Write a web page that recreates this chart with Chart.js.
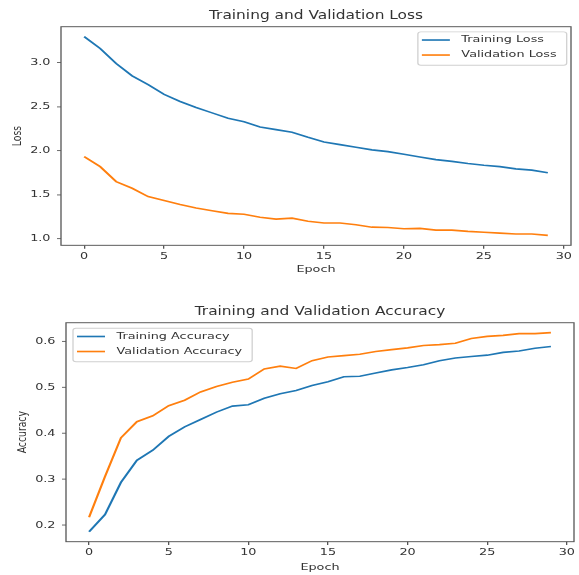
<!DOCTYPE html>
<html>
<head>
<meta charset="utf-8">
<script src="https://cdn.jsdelivr.net/npm/chart.js@4.4.1/dist/chart.umd.min.js"></script>
<style>
  html, body { margin: 0; padding: 0; background: #fff; overflow: hidden; }
  canvas { display: block; }
</style>
</head>
<body>
<!-- internal sizes are taller: the reference figure is squashed vertically -->
<canvas id="lossChart" width="579" height="392"></canvas>
<canvas id="accChart" width="579" height="385"></canvas>
<script>
// data
const epochs = [0, 1, 2, 3, 4, 5, 6, 7, 8, 9, 10, 11, 12, 13, 14, 15, 16, 17, 18, 19, 20, 21, 22, 23, 24, 25, 26, 27, 28, 29];
const trainLoss = [3.295, 3.16, 2.99, 2.85, 2.75, 2.64, 2.56, 2.49, 2.43, 2.37, 2.33, 2.27, 2.24, 2.21, 2.153, 2.10, 2.07, 2.04, 2.01, 1.99, 1.96, 1.93, 1.90, 1.88, 1.855, 1.835, 1.82, 1.795, 1.78, 1.75];
const valLoss = [1.934, 1.82, 1.65, 1.575, 1.48, 1.435, 1.39, 1.35, 1.32, 1.29, 1.28, 1.245, 1.225, 1.235, 1.20, 1.18, 1.18, 1.16, 1.133, 1.13, 1.115, 1.12, 1.10, 1.10, 1.085, 1.075, 1.065, 1.055, 1.055, 1.04];
const trainAcc = [0.1855, 0.223, 0.293, 0.341, 0.363, 0.393, 0.414, 0.430, 0.446, 0.459, 0.462, 0.476, 0.486, 0.493, 0.504, 0.512, 0.523, 0.524, 0.531, 0.538, 0.543, 0.549, 0.558, 0.564, 0.567, 0.570, 0.576, 0.579, 0.585, 0.589];
const valAcc = [0.217, 0.306, 0.390, 0.425, 0.438, 0.460, 0.472, 0.490, 0.502, 0.511, 0.518, 0.540, 0.546, 0.541, 0.558, 0.566, 0.569, 0.572, 0.578, 0.582, 0.586, 0.591, 0.593, 0.596, 0.6065, 0.611, 0.613, 0.617, 0.617, 0.619];

const xTicks = [0, 5, 10, 15, 20, 25, 30];
const lossTicks = [1.0, 1.5, 2.0, 2.5, 3.0];
const accTicks = [0.2, 0.3, 0.4, 0.5, 0.6];

const BLUE = '#1f77b4';
const ORANGE = '#ff7f0e';
const TEXT = '#333';
const FONT = "'DejaVu Sans', sans-serif";
const SQUASH = 0.74;

Chart.defaults.font.family = FONT;
Chart.defaults.color = TEXT;

// matplotlib style 5% margins
function padRange(arrs) {
  const all = [].concat(...arrs);
  const lo = Math.min(...all), hi = Math.max(...all);
  const m = (hi - lo) * 0.05;
  return [lo - m, hi + m];
}

// full box around the axes
const frame = {
  id: 'frame',
  afterDatasetsDraw(chart) {
    const { ctx, chartArea: a } = chart;
    ctx.save();
    ctx.strokeStyle = '#555';
    ctx.lineWidth = 1.3;
    ctx.strokeRect(a.left, a.top, a.right - a.left, a.bottom - a.top);
    ctx.restore();
  }
};

// title centred over the axes, like matplotlib
const axTitle = {
  id: 'axTitle',
  afterDraw(chart, args, opts) {
    const { ctx, chartArea: a } = chart;
    ctx.save();
    ctx.font = opts.size + 'px ' + FONT;
    ctx.fillStyle = TEXT;
    ctx.textAlign = 'center';
    ctx.textBaseline = 'middle';
    ctx.fillText(opts.text, (a.left + a.right) / 2, opts.y);
    ctx.restore();
  }
};

// legend box inside the axes
const boxLegend = {
  id: 'boxLegend',
  afterDraw(chart, args, opts) {
    const { ctx, chartArea: a } = chart;
    const sets = chart.data.datasets;
    ctx.save();
    ctx.font = opts.size + 'px ' + FONT;
    const textW = Math.max(...sets.map(d => ctx.measureText(d.label).width));
    const w = opts.padLeft + opts.handle + opts.gap + textW + opts.padRight;
    const h = opts.boxH;
    const left = opts.corner === 'right' ? a.right - opts.dx - w : a.left + opts.dx;
    const top = a.top + opts.dy;

    ctx.beginPath();
    ctx.roundRect(left, top, w, h, 3);
    ctx.fillStyle = 'rgba(255,255,255,0.85)';
    ctx.fill();
    ctx.strokeStyle = '#d0d0d0';
    ctx.lineWidth = 1.3;
    ctx.stroke();

    sets.forEach((d, i) => {
      const y = top + opts.firstRow + i * opts.rowGap;
      const x0 = left + opts.padLeft;
      ctx.beginPath();
      ctx.moveTo(x0, y);
      ctx.lineTo(x0 + opts.handle, y);
      ctx.strokeStyle = d.borderColor;
      ctx.lineWidth = 2.2;
      ctx.stroke();
      ctx.fillStyle = TEXT;
      ctx.textAlign = 'left';
      ctx.textBaseline = 'middle';
      ctx.fillText(d.label, x0 + opts.handle + opts.gap, y);
    });
    ctx.restore();
  }
};

function makeChart(id, cfg) {
  const canvas = document.getElementById(id);
  const fullH = canvas.height;
  const xr = padRange([epochs]);
  const yr = padRange(cfg.series.map(s => s.values));
  const chart = new Chart(canvas, {
    type: 'line',
    data: {
      datasets: cfg.series.map(s => ({
        label: s.label,
        data: epochs.map((e, i) => ({ x: e, y: s.values[i] })),
        borderColor: s.color,
        backgroundColor: s.color,
        borderWidth: 2.2,
        pointRadius: 0,
        tension: 0,
        fill: false
      }))
    },
    options: {
      responsive: false,
      devicePixelRatio: 1,
      animation: false,
      events: [],
      layout: { padding: { left: 0, right: cfg.padRight, top: cfg.padTop, bottom: 0 } },
      plugins: {
        legend: { display: false },
        tooltip: { enabled: false },
        axTitle: { text: cfg.title, size: 15.4, y: cfg.titleY },
        boxLegend: Object.assign({ size: 12.8, padLeft: 4, handle: 28, gap: 11.5, padRight: 10, boxH: 45, firstRow: 11, rowGap: 20.3 }, cfg.legend)
      },
      scales: {
        x: {
          type: 'linear',
          min: xr[0],
          max: xr[1],
          afterFit: s => { s.height = cfg.xAxisH; },
          afterBuildTicks: s => { s.ticks = xTicks.map(v => ({ value: v })); },
          grid: { drawOnChartArea: false, drawTicks: true, tickLength: 4.5, color: '#555', lineWidth: 1.3 },
          border: { display: false },
          ticks: { font: { size: 12.8 }, padding: 2.5, maxRotation: 0, callback: v => String(v) },
          title: { display: true, text: 'Epoch', font: { size: 12.8 }, padding: { top: 0, bottom: cfg.xTitlePad } }
        },
        y: {
          type: 'linear',
          min: yr[0],
          max: yr[1],
          afterFit: s => { s.width = cfg.yAxisW; },
          afterBuildTicks: s => { s.ticks = cfg.yTicks.map(v => ({ value: v })); },
          grid: { drawOnChartArea: false, drawTicks: true, tickLength: 4, color: '#555', lineWidth: 1 },
          border: { display: false },
          ticks: { font: { size: 12.8 }, padding: 6.5, callback: v => Number(v).toFixed(1) },
          title: { display: true, text: cfg.yLabel, font: { size: 12.5 }, padding: { top: cfg.yTitlePad, bottom: 0 } }
        }
      }
    },
    plugins: [frame, axTitle, boxLegend]
  });

  // squash the drawing vertically, keeping text and lines as vector drawing
  const shownH = Math.round(fullH * SQUASH);
  canvas.height = shownH;
  canvas.style.width = '579px';
  canvas.style.height = shownH + 'px';
  chart.ctx.setTransform(1, 0, 0, shownH / fullH, 0, 0);
  chart.draw();
  return chart;
}

makeChart('lossChart', {
  title: 'Training and Validation Loss',
  yLabel: 'Loss',
  yTicks: lossTicks,
  series: [
    { label: 'Training Loss', values: trainLoss, color: BLUE },
    { label: 'Validation Loss', values: valLoss, color: ORANGE }
  ],
  padTop: 36.1, titleY: 22.3, padRight: 8, yAxisW: 61, xAxisH: 60.4, xTitlePad: 19.3, yTitlePad: 10.5,
  legend: { corner: 'right', dx: 4.3, dy: 7 }
});

makeChart('accChart', {
  title: 'Training and Validation Accuracy',
  yLabel: 'Accuracy',
  yTicks: accTicks,
  series: [
    { label: 'Training Accuracy', values: trainAcc, color: BLUE },
    { label: 'Validation Accuracy', values: valAcc, color: ORANGE }
  ],
  padTop: 44.2, titleY: 30.2, padRight: 5, yAxisW: 66, xAxisH: 45, xTitlePad: 2.3, yTitlePad: 15,
  legend: { corner: 'left', dx: 7, dy: 7.6 }
});
</script>
</body>
</html>
